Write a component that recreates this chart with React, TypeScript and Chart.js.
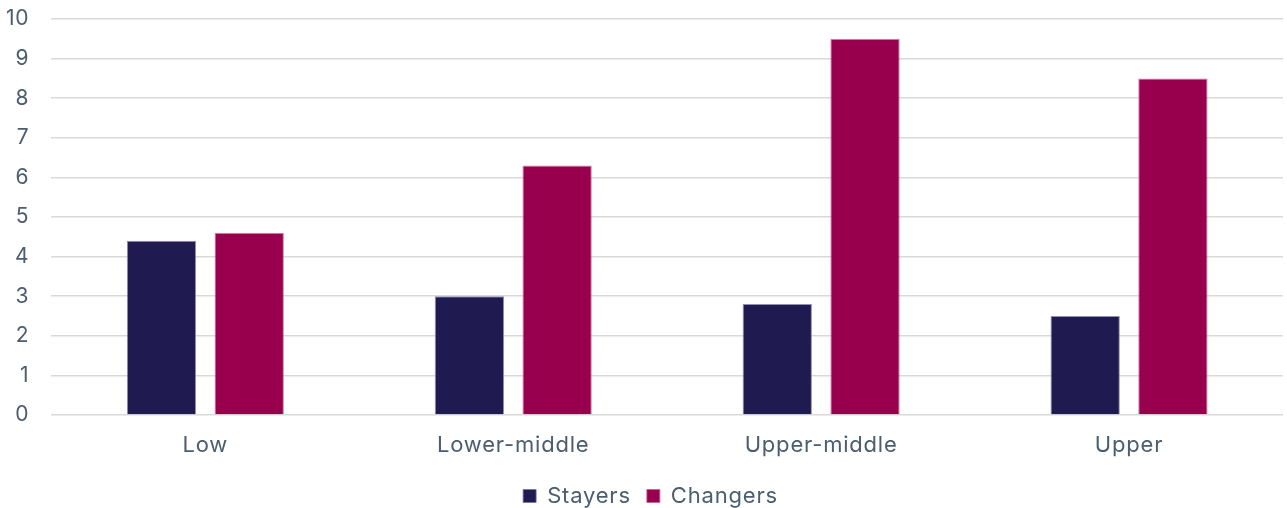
import React, { useEffect, useRef } from "react";
import { Chart, registerables } from "chart.js";

Chart.register(...registerables);

const categories = ["Low", "Lower-middle", "Upper-middle", "Upper"];
const stayers = [4.4, 3.0, 2.8, 2.5];
const changers = [4.6, 6.3, 9.5, 8.5];
const yTicks = [0, 1, 2, 3, 4, 5, 6, 7, 8, 9, 10];

const FONT = "Inter, 'Noto Sans', sans-serif";
const TEXT = "#4b5d6e";

// Slightly looser tracking for every label drawn on the canvas,
// and a small nudge of the legend towards the plot's centre.
const layoutPlugin = {
  id: "textAndLegendTweaks",
  beforeUpdate(chart: any) {
    if ("letterSpacing" in chart.ctx) chart.ctx.letterSpacing = "0.8px";
  },
  afterLayout(chart: any) {
    const lg = chart.legend;
    if (lg) {
      lg.left += 17;
      lg.right += 17;
    }
  },
  beforeDraw(chart: any) {
    if ("letterSpacing" in chart.ctx) chart.ctx.letterSpacing = "0.8px";
  },
};

export default function App() {
  const ref = useRef<HTMLCanvasElement | null>(null);

  useEffect(() => {
    document.body.style.margin = "0";
    const canvas = ref.current;
    if (!canvas) return;

    const chart = new Chart(canvas, {
      type: "bar",
      plugins: [layoutPlugin],
      data: {
        labels: categories,
        datasets: [
          {
            label: "Stayers",
            data: stayers,
            backgroundColor: "#1f1a4f",
            borderColor: "rgba(120,115,160,0.8)",
            borderWidth: 1,
            categoryPercentage: 0.57,
            barPercentage: 0.79,
          },
          {
            label: "Changers",
            data: changers,
            backgroundColor: "#98004e",
            borderColor: "rgba(200,90,150,0.8)",
            borderWidth: 1,
            categoryPercentage: 0.57,
            barPercentage: 0.79,
          },
        ],
      },
      options: {
        animation: false,
        responsive: false,
        maintainAspectRatio: false,
        layout: { padding: { top: 0, right: 4, left: -16, bottom: -9 } },
        plugins: {
          legend: {
            position: "bottom",
            labels: {
              boxWidth: 13,
              boxHeight: 13,
              padding: 16,
              color: TEXT,
              font: { family: FONT, size: 22 },
            },
          },
          tooltip: { enabled: false },
        },
        scales: {
          x: {
            grid: { display: false, drawTicks: false },
            border: { display: false },
            afterFit: (axis: any) => {
              axis.height = 54;
            },
            ticks: {
              color: TEXT,
              font: { family: FONT, size: 22 },
              padding: 17,
            },
          },
          y: {
            min: 0,
            max: 10,
            afterBuildTicks: (axis: any) => {
              axis.ticks = yTicks.map((v) => ({ value: v }));
            },
            afterFit: (axis: any) => {
              axis.paddingTop = 19;
              axis.paddingBottom = 12;
            },
            grid: { color: "#d9d9d9", lineWidth: 1.5, drawTicks: false },
            border: { display: false },
            ticks: {
              color: TEXT,
              font: { family: FONT, size: 21 },
              padding: 22,
            },
          },
        },
      },
    });
    return () => chart.destroy();
  }, []);

  return (
    <div style={{ width: 1287, height: 508 }}>
      <canvas ref={ref} width={1287} height={508} />
    </div>
  );
}
